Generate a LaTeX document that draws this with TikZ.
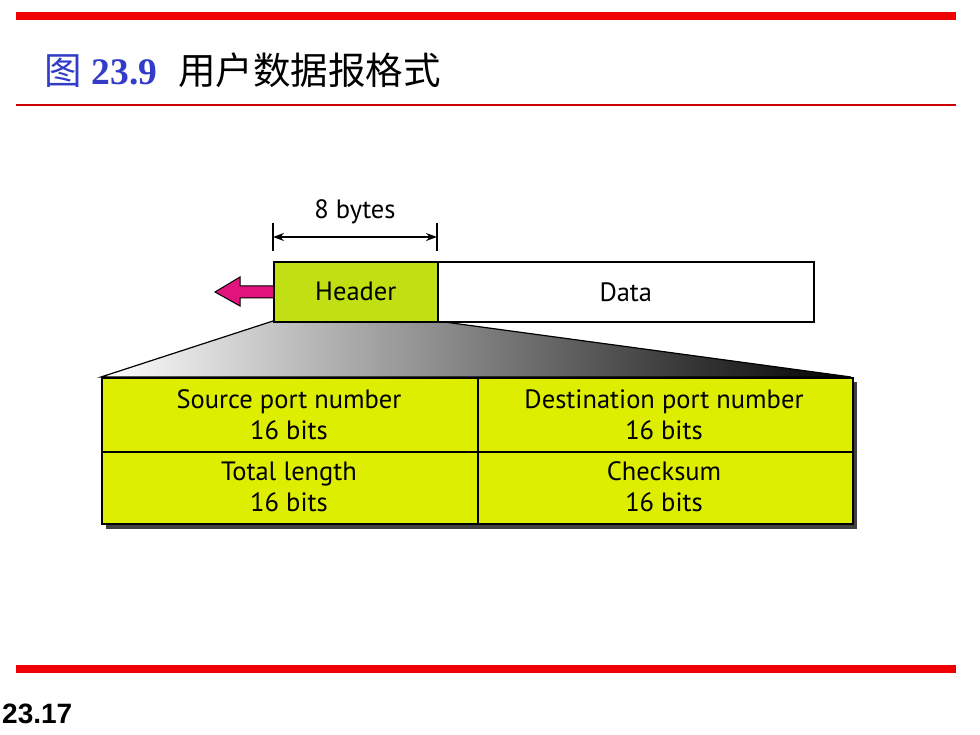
\documentclass[tikz,border=0pt]{standalone}
\usepackage{fontspec}
\setmainfont{PT Sans}
\newfontfamily\cjk{Noto Sans CJK SC}
\newfontfamily\titleserif{Liberation Serif}
\newfontfamily\footsans{Liberation Sans}
\usetikzlibrary{arrows.meta}
\definecolor{slidered}{RGB}{240,0,0}
\definecolor{titleblue}{RGB}{50,60,200}
\definecolor{hdrgreen}{RGB}{192,224,20}
\definecolor{tblyellow}{RGB}{221,238,0}
\definecolor{pinkarrow}{RGB}{225,20,125}
\tikzset{
  celltext/.style={font=\fontsize{26.5}{31}\selectfont, align=center, text=black},
  boxline/.style={draw=black, line width=1.6pt},
}
\begin{document}
\begin{tikzpicture}[x=1pt,y=-1pt]
\useasboundingbox (0,0) rectangle (980,735);
\fill[white] (0,0) rectangle (980,735);
% slide rules
\fill[slidered] (16,12) rectangle (956,20);
\fill[slidered!85!black] (16,104) rectangle (956,106);
\fill[slidered] (16,665) rectangle (956,673);
% title
\node[anchor=west, inner sep=0] (title) at (44,70)
  {\fontsize{37.5}{40}\selectfont\color{titleblue}{\cjk 图}\hspace{10pt}{\titleserif\bfseries 23.9}\hspace{21pt}\color{black}{\cjk 用户数据报格式}};
\node[anchor=west, inner sep=0] (pagenum) at (2,714)
  {\fontsize{28}{30}\selectfont\footsans\bfseries 23.17};
% trapezoid with shading
\shade[left color=white, right color=black, draw=black, line width=1.2pt]
  (273,321) -- (437,321) -- (851,377) -- (101,377) -- cycle;
% table shadow
\fill[black!75] (106,382) rectangle (857,529);
% table
\node[boxline, fill=tblyellow, minimum width=376pt, minimum height=74pt, inner sep=0, anchor=north west] (src) at (101,377) {};
\node[boxline, fill=tblyellow, minimum width=375pt, minimum height=74pt, inner sep=0, anchor=north west] (dst) at (477,377) {};
\node[boxline, fill=tblyellow, minimum width=376pt, minimum height=72pt, inner sep=0, anchor=north west] (len) at (101,451) {};
\node[boxline, fill=tblyellow, minimum width=375pt, minimum height=72pt, inner sep=0, anchor=north west] (chk) at (477,451) {};
\node[celltext] at (289,415) {Source port number\\16 bits};
\node[celltext] at (664,415) {Destination port number\\16 bits};
\node[celltext] at (289,487) {Total length\\16 bits};
\node[celltext] at (664,487) {Checksum\\16 bits};
% header and data boxes
\node[boxline, fill=hdrgreen, minimum width=164pt, minimum height=60pt, inner sep=0, anchor=north west,
  font=\fontsize{26.5}{30}\selectfont] (hdr) at (273,261) {Header};
\node[boxline, fill=white, minimum width=376pt, minimum height=60pt, inner sep=0, anchor=north west,
  font=\fontsize{26.5}{30}\selectfont] (data) at (437,261) {Data};
% dimension
\coordinate (dl) at (273,237);
\coordinate (dr) at (437,237);
\draw[line width=1.2pt] (273,223) -- (273,251);
\draw[line width=1.2pt] (437,223) -- (437,251);
\draw[line width=1.2pt, {Stealth[length=11pt,width=8pt]}-{Stealth[length=11pt,width=8pt]}] (dl) -- (dr);
\node[font=\fontsize{26.5}{30}\selectfont] (bytes) at (355,212) {8 bytes};
% magenta arrow
\draw[fill=pinkarrow, draw=black, line width=1pt, line join=miter]
  (hdr.west |- 0,286) -- (240,286) -- (240,277) -- (215,292) -- (240,306) -- (240,298) -- (hdr.west |- 0,298);
\end{tikzpicture}
\end{document}
